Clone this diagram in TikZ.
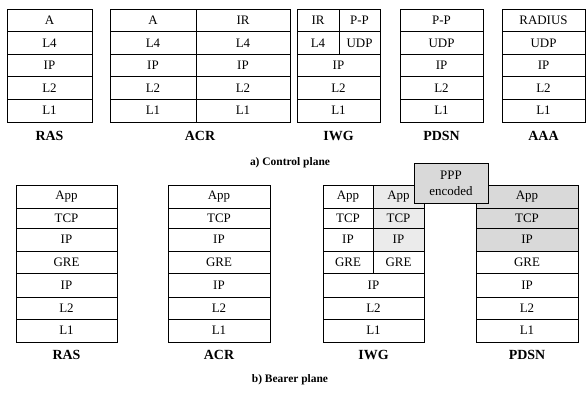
\documentclass[tikz,border=0pt]{standalone}
\usepackage{fontspec}
\setmainfont{Liberation Serif}
\begin{document}
\begin{tikzpicture}[x=1bp, y=-1bp,
    cell/.style={draw, line width=0.8bp, inner sep=0pt, minimum height=22.6bp, font=\fontsize{13}{16}\selectfont},
    lbl/.style={font=\fontsize{14}{16}\selectfont\bfseries},
    plane/.style={font=\fontsize{11.5}{14}\selectfont\bfseries}]
    \useasboundingbox (0,0) rectangle (587,394);
    % a) control plane
    \foreach \t [count=\i] in {A,L4,IP,L2,L1}
        \node[cell, minimum width=85bp] (cras\i) at (49.5,{9+22.6*(\i-0.5)}) {\t};
    \foreach \t/\u [count=\i] in {A/IR,L4/L4,IP/IP,L2/L2,L1/L1} {
        \node[cell, minimum width=86bp] (cacrl\i) at (153,{9+22.6*(\i-0.5)}) {\t};
        \node[cell, minimum width=94bp] (cacrr\i) at (243,{9+22.6*(\i-0.5)}) {\u};
    }
    \foreach \t/\u [count=\i] in {IR/P-P,L4/UDP} {
        \node[cell, minimum width=42bp] (ciwgl\i) at (318,{9+22.6*(\i-0.5)}) {\t};
        \node[cell, minimum width=41bp] (ciwgr\i) at (359.5,{9+22.6*(\i-0.5)}) {\u};
    }
    \foreach \t [count=\i from 3] in {IP,L2,L1}
        \node[cell, minimum width=83bp] (ciwg\i) at (338.5,{9+22.6*(\i-0.5)}) {\t};
    \foreach \t [count=\i] in {P-P,UDP,IP,L2,L1}
        \node[cell, minimum width=83bp] (cpdsn\i) at (441.5,{9+22.6*(\i-0.5)}) {\t};
    \foreach \t [count=\i] in {RADIUS,UDP,IP,L2,L1}
        \node[cell, minimum width=83bp] (caaa\i) at (543.5,{9+22.6*(\i-0.5)}) {\t};
    \node[lbl] (lcras) at (49.5,136) {RAS};
    \node[lbl] (lcacr) at (200,136) {ACR};
    \node[lbl] (lciwg) at (338.5,136) {IWG};
    \node[lbl] (lcpdsn) at (441.5,136) {PDSN};
    \node[lbl] (lcaaa) at (543.5,136) {AAA};
    \node[plane] (capa) at (290,163) {a) Control plane};
    % b) bearer plane
    \foreach \a/\b/\t [count=\i] in {185/208/App,208/228/TCP,228/251/IP,251/273/GRE,273/297/IP,297/319/L2,319/342/L1} {
        \node[cell, minimum width=101bp, minimum height={(\b-\a)*1bp}] (bras\i) at (66.5,{(\a+\b)/2}) {\t};
        \node[cell, minimum width=102bp, minimum height={(\b-\a)*1bp}] (bacr\i) at (219,{(\a+\b)/2}) {\t};
    }
    \foreach \a/\b/\t/\f [count=\i] in {185/208/App/black!8,208/228/TCP/black!8,228/251/IP/black!8,251/273/GRE/white} {
        \node[cell, minimum width=50bp, minimum height={(\b-\a)*1bp}] (biwgl\i) at (348,{(\a+\b)/2}) {\t};
        \node[cell, fill=\f, minimum width=51bp, minimum height={(\b-\a)*1bp}] (biwgr\i) at (398.5,{(\a+\b)/2}) {\t};
    }
    \foreach \a/\b/\t [count=\i from 5] in {273/297/IP,297/319/L2,319/342/L1}
        \node[cell, minimum width=101bp, minimum height={(\b-\a)*1bp}] (biwg\i) at (373.5,{(\a+\b)/2}) {\t};
    \foreach \a/\b/\t/\f [count=\i] in {185/208/App/black!15,208/228/TCP/black!15,228/251/IP/black!15,251/273/GRE/white,273/297/IP/white,297/319/L2/white,319/342/L1/white}
        \node[cell, fill=\f, minimum width=102bp, minimum height={(\b-\a)*1bp}] (bpdsn\i) at (527,{(\a+\b)/2}) {\t};
    \node[cell, fill=black!15, minimum width=74bp, minimum height=40bp, align=center] (ppp) at (451,183) {PPP\\encoded};
    \node[lbl] (lbras) at (66.5,355) {RAS};
    \node[lbl] (lbacr) at (219,355) {ACR};
    \node[lbl] (lbiwg) at (373.5,355) {IWG};
    \node[lbl] (lbpdsn) at (527,355) {PDSN};
    \node[plane] (capb) at (290,380) {b) Bearer plane};
\end{tikzpicture}
\end{document}
